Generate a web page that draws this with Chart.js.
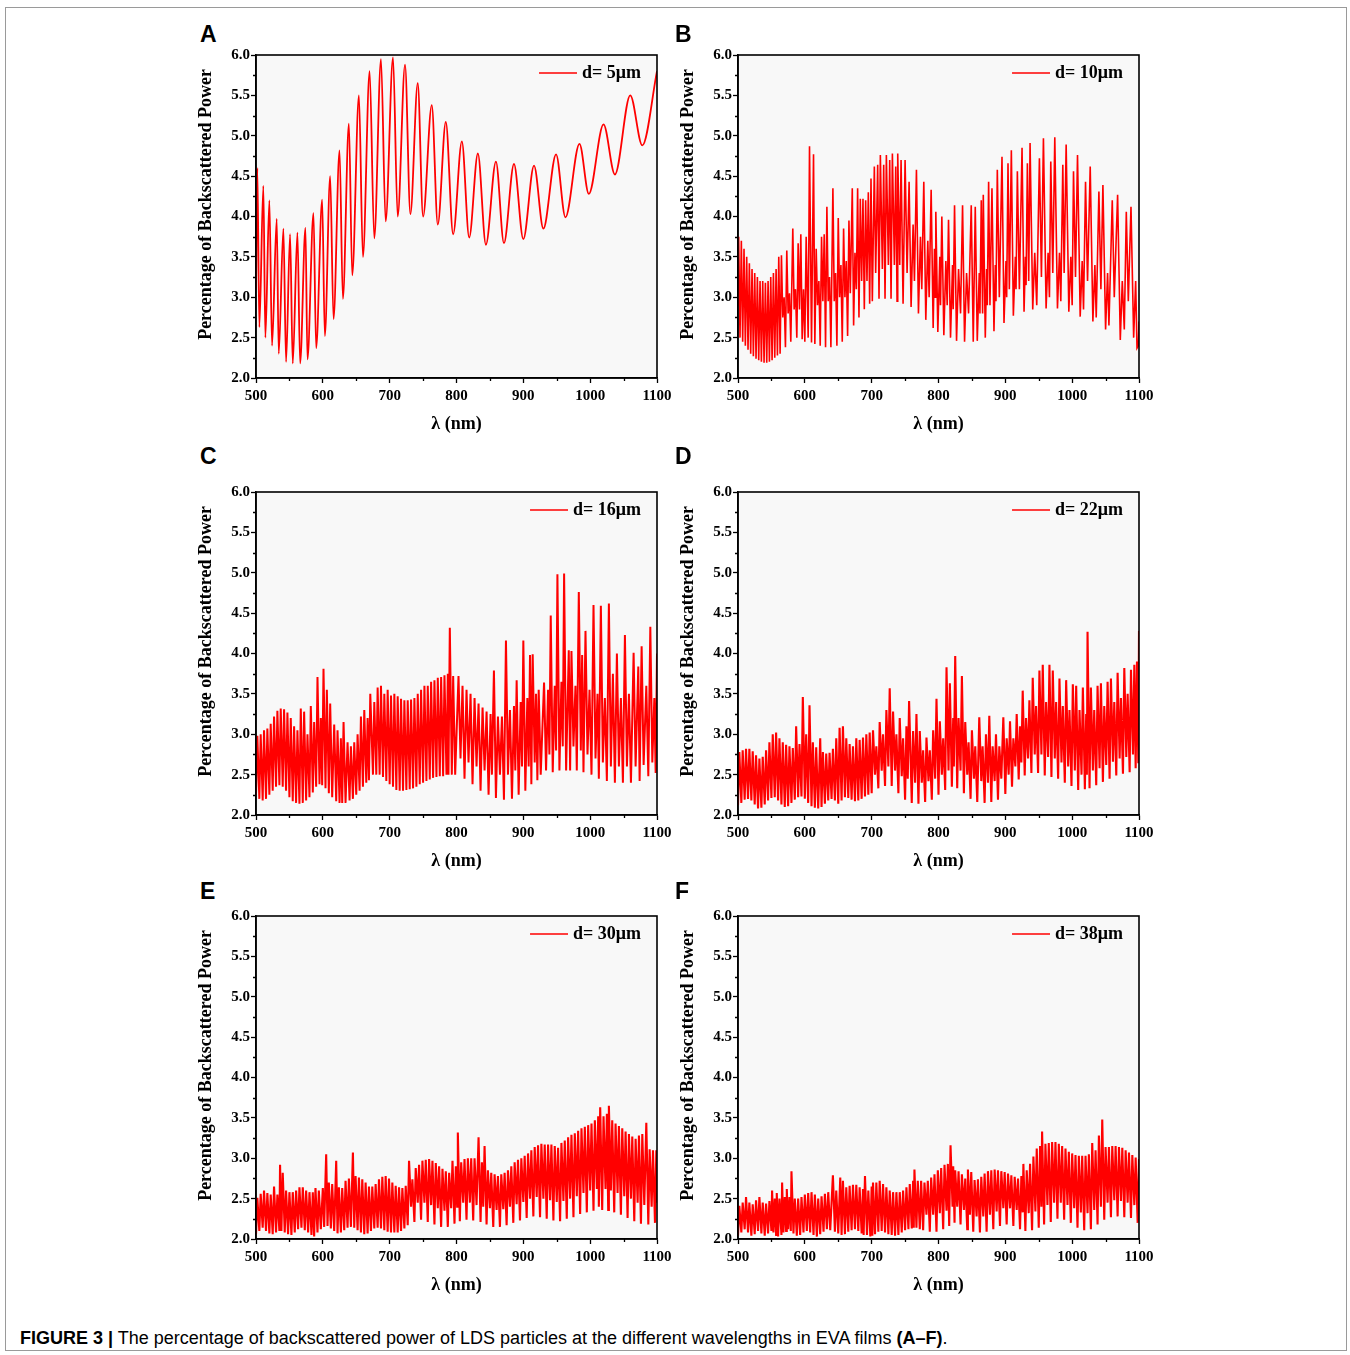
<!DOCTYPE html>
<html>
<head>
<meta charset="utf-8">
<script src="https://cdn.jsdelivr.net/npm/chart.js@4.4.0/dist/chart.umd.min.js"></script>
<style>
  body { margin: 0; background: #fff; width: 1350px; height: 1355px; position: relative; overflow: hidden; }
  .frame { position: absolute; left: 5px; top: 7px; width: 1342px; height: 1344px; border: 1px solid #9a9a9a; box-sizing: border-box; }
  .panel { position: absolute; }
  .tag { position: absolute; font: bold 23px/23px "Liberation Sans", Arial, sans-serif; color: #000; }
  .caption { position: absolute; left: 20px; top: 1329px; font: 18px/18px "Liberation Sans", Arial, sans-serif; color: #000; white-space: nowrap; }
</style>
</head>
<body>
<div class="frame"></div>
<div class="caption"><b>FIGURE 3 |</b> The percentage of backscattered power of LDS particles at the different wavelengths in EVA films <b>(A–F)</b>.</div>
<script>
// axis ticks
const xMajor = [500, 600, 700, 800, 900, 1000, 1100];
const xMinor = [550, 650, 750, 850, 950, 1050];
const yMajor = [2.0, 2.5, 3.0, 3.5, 4.0, 4.5, 5.0, 5.5, 6.0];
const yMinor = [2.25, 2.75, 3.25, 3.75, 4.25, 4.75, 5.25, 5.75];

const panelLetters = ["A", "B", "C", "D", "E", "F"];
const legendLabels = ["d= 5μm", "d= 10μm", "d= 16μm", "d= 22μm", "d= 30μm", "d= 38μm"];

// [wavelength (nm), percentage of backscattered power] (peaks / troughs)
const curveA = [[500,3.1],[502,4.6],[505,2.63],[511,4.38],[514,2.5],[520,4.2],[524,2.4],[531,3.97],[534,2.3],[541,3.85],[545,2.2],[551,3.78],[555,2.18],[562,3.8],[566,2.18],[574,3.86],[577,2.23],[586,4.04],[590,2.37],[599,4.21],[603,2.52],[611,4.5],[616,2.73],[625,4.82],[630,2.98],[639,5.15],[644,3.27],[654,5.5],[660,3.5],[670,5.8],[677,3.73],[687,5.95],[694,3.94],[705,5.97],[712,4.0],[723,5.88],[731,4.03],[742,5.65],[750,4.0],[763,5.38],[772,3.9],[784,5.17],[795,3.78],[808,4.93],[819,3.74],[832,4.78],[844,3.65],[859,4.68],[871,3.67],[886,4.65],[900,3.72],[916,4.63],[930,3.85],[949,4.77],[963,3.99],[984,4.9],[998,4.28],[1020,5.14],[1037,4.52],[1060,5.5],[1078,4.88],[1100,5.8]];

const curveB = [[500,2.9],[501,3.75],[503,2.5],[505,3.7],[507,2.45],[509,3.6],[511,2.4],[513,3.5],[515,2.35],[517,3.42],[519,2.3],[521,3.35],[523,2.27],[525,3.3],[527,2.24],[529,3.25],[531,2.22],[533,3.2],[535,2.2],[537,3.2],[539,2.19],[541,3.18],[543,2.19],[545,3.2],[547,2.2],[549,3.25],[551,2.22],[553,3.3],[555,2.25],[557,3.35],[559,2.28],[561,3.5],
[563,2.3],[565,3.52],[567,2.75],[569,3.0],[571,2.38],[573,3.58],[575,2.8],[577,3.05],[579,2.45],[582,3.85],[584,2.85],[586,3.1],[588,2.5],[590,3.67],[592,2.85],[594,3.78],[596,2.48],[598,3.1],[600,2.45],[602,3.75],[605,2.5],[607,4.87],[610,2.44],[613,4.77],[615,2.42],[617,3.6],[619,2.9],[621,3.2],[623,2.4],[625,3.75],[627,2.95],[629,3.78],[631,2.38],[633,4.12],[635,2.95],[637,3.25],[639,2.38],[642,4.35],[644,2.95],[646,3.3],[648,2.4],[650,3.98],[652,3.0],[654,3.4],[656,2.45],[658,3.85],[660,3.0],[662,3.45],[664,2.52],[666,3.95],[668,3.05],[671,4.35],[673,2.65],[675,3.55],[677,3.1],[679,4.35],[681,2.75],[683,4.22],[685,3.2],[687,4.22],[689,2.85],[691,4.2],[693,3.2],[695,4.3],[697,2.92],[699,4.47],
[701,2.95],[704,4.62],[706,3.3],[709,4.64],[711,2.98],[713,4.76],[716,3.35],[718,4.64],[720,2.98],[722,4.76],[725,3.4],[727,4.7],[729,2.98],[731,4.78],[734,3.4],[736,4.62],[738,2.95],[739,4.78],[742,3.4],[744,4.7],[747,2.92],[750,4.7],[753,3.3],[756,4.43],[759,2.88],[762,3.9],[764,3.2],[767,4.58],[770,2.8],[773,3.75],[775,3.1],[778,4.43],[781,2.72],[784,3.7],[786,3.0],[789,4.33],[792,2.62],[794,3.6],[795,3.0],[796,4.06],[799,2.57],[802,3.5],[803,2.9],[805,4.0],[808,2.53],[811,3.45],[813,2.9],[815,3.96],[818,2.5],[821,3.4],[822,2.85],[824,4.14],[827,2.46],[830,3.35],[833,2.8],[836,4.14],[839,2.45],[842,3.3],[845,2.8],[849,4.14],[852,2.45],[855,4.12],[858,2.46],[861,3.3],[862,2.8],[864,4.2],[866,2.8],[867,4.27],[870,2.5],[872,3.35],[873,2.9],[875,4.43],[877,2.9],[880,4.35],[883,2.58],[885,3.4],[886,2.95],[888,4.58],[891,3.0],[895,4.74],[898,2.68],[901,3.45],[902,3.0],[904,4.66],[906,3.1],[909,4.82],[912,2.77],[915,3.5],[916,3.1],[918,4.56],[921,3.1],[925,4.85],[928,2.82],[930,3.5],[931,3.15],[933,4.66],[935,3.2],[937,4.91],[941,2.85],[944,3.55],[947,2.9],[951,4.72],[954,3.25],[957,4.97],[961,2.86],[964,3.55],[966,3.0],[968,4.68],[971,3.3],[974,4.98],[978,2.86],[981,3.55],[983,2.95],[986,4.64],[988,3.3],[991,4.89],[995,2.82],[998,3.5],[1000,2.9],[1002,4.56],[1005,3.25],[1008,4.76],[1012,2.76],[1015,3.45],[1017,2.85],[1020,4.43],[1023,3.2],[1027,4.62],[1031,2.7],[1034,3.4],[1036,2.75],[1040,4.31],[1043,3.1],[1046,4.39],[1050,2.6],[1053,3.3],[1055,2.65],[1060,4.2],[1063,3.0],[1068,4.27],[1072,2.47],[1075,3.2],[1078,2.6],[1081,4.06],[1084,2.95],[1088,4.12],[1092,2.5],[1095,3.2],[1097,2.37],[1099,2.4],[1100,2.7]];

const curveC = [[500,2.25],[502,2.98],[505,2.2],[507,3.0],[510,2.18],[512,3.05],[515,2.2],[517,3.07],[520,2.25],[522,3.13],[525,2.3],[527,3.22],[530,2.35],[532,3.29],[535,2.37],[537,3.32],[540,2.35],[542,3.31],[545,2.3],[547,3.27],[550,2.22],[552,3.2],[555,2.17],[557,3.1],[560,2.15],[562,3.05],[565,2.14],[567,3.32],[570,2.15],[572,3.28],[575,2.18],[577,3.0],[580,2.22],[582,3.35],[585,2.28],[587,3.15],[590,2.35],[592,3.71],[595,2.38],[597,3.2],[599,2.37],[601,3.81],[604,2.33],[606,3.55],[609,2.27],[611,3.38],[614,2.22],[617,3.12],[620,2.17],[622,3.05],[625,2.15],[627,2.95],[629,2.15],[631,3.15],[634,2.15],[637,2.9],[640,2.18],[642,2.85],[645,2.2],[647,2.9],[650,2.25],[652,3.0],[655,2.3],[657,3.22],[660,2.35],[662,3.3],[665,2.4],[667,3.2],[669,2.43],[671,3.5],[675,2.5],[677,3.4],[680,2.5],[682,3.58],[685,2.5],[687,3.6],[690,2.47],[692,3.5],[695,2.42],[697,3.55],[700,2.38],[702,3.48],[705,2.35],[707,3.5],[710,2.31],[712,3.47],[715,2.3],[717,3.44],[720,2.3],[722,3.42],[725,2.31],[727,3.42],[730,2.32],[732,3.43],[735,2.33],[737,3.45],[740,2.35],[742,3.5],[745,2.38],[747,3.55],[750,2.4],[752,3.6],[755,2.42],[757,3.6],[760,2.44],[762,3.65],[765,2.46],[767,3.67],[770,2.47],[772,3.7],[775,2.48],[777,3.71],[780,2.48],[782,3.73],[785,2.5],[787,3.75],[788,2.5],[790,4.32],[793,2.5],[795,3.72],[798,2.5],
[803,3.72],[806,2.7],[809,3.6],[812,2.45],[815,3.55],[818,2.65],[821,3.5],[824,2.38],[827,3.45],[830,2.6],[833,3.38],[836,2.3],[839,3.33],[842,2.55],[845,3.28],[848,2.25],[851,3.25],[853,2.5],[856,3.79],[859,2.21],[862,3.22],[865,2.5],[868,3.22],[871,2.19],[874,4.16],[877,2.5],[880,3.3],[883,2.2],[886,3.35],[888,2.55],[890,3.67],[893,2.25],[896,3.4],[898,2.6],[900,4.16],[903,2.3],[906,3.45],[908,2.6],[910,3.98],[912,2.38],[914,3.99],[917,2.65],[919,3.5],[921,2.43],[923,3.55],[926,2.5],[931,3.64],[934,2.55],[937,3.55],[939,2.75],[941,4.47],[944,2.53],[947,3.6],[949,2.8],[951,4.98],[954,2.55],[957,3.65],[959,2.85],[961,4.99],[964,2.55],[968,4.04],[970,2.55],[972,4.03],[975,2.85],[978,3.6],[980,2.55],[983,4.76],[986,2.8],[988,3.98],[990,2.53],[993,4.28],[996,2.75],[999,3.55],[1002,2.5],[1005,4.6],[1008,2.7],[1011,3.5],[1013,2.45],[1016,4.59],[1019,2.65],[1022,3.45],[1025,2.42],[1028,4.62],[1031,2.6],[1034,3.75],[1037,2.4],[1040,4.0],[1043,2.6],[1046,3.45],[1049,2.4],[1052,4.23],[1055,2.6],[1058,3.5],[1061,2.4],[1065,4.01],[1068,2.6],[1072,3.84],[1074,2.42],[1077,4.09],[1080,2.62],[1084,3.6],[1087,2.48],[1090,4.33],[1093,2.65],[1096,3.45],[1098,2.52],[1100,4.0]];

const curveD = [[500,2.12],[502,2.78],[505,2.15],[507,2.8],[510,2.19],[512,2.82],[515,2.2],[517,2.82],[520,2.18],[522,2.79],[525,2.13],[527,2.74],[530,2.08],[532,2.7],[535,2.09],[537,2.72],[540,2.13],[542,2.8],[545,2.18],[547,2.9],[550,2.21],[552,3.0],[555,2.22],[557,3.02],[560,2.18],[562,2.95],[565,2.13],[567,2.9],[570,2.1],[572,2.87],[575,2.11],[577,2.85],[580,2.15],[582,2.83],[585,2.19],[587,3.1],[590,2.22],[592,2.88],[595,2.23],[597,3.46],[600,2.2],[602,3.0],[605,2.15],[607,3.36],[610,2.11],[612,2.9],[615,2.09],[617,2.84],[620,2.08],[623,2.95],[625,2.1],[627,2.78],[630,2.14],[632,2.76],[635,2.18],[637,2.77],[640,2.2],[642,2.82],[645,2.18],[647,2.95],[650,2.14],[652,3.08],[655,2.18],[657,3.1],[660,2.22],[662,2.95],[665,2.21],[667,2.88],[670,2.19],[672,2.85],[675,2.17],[677,2.95],[680,2.18],[682,2.93],[685,2.2],[687,2.96],[690,2.23],[692,3.0],[695,2.25],[697,3.02],
[700,2.27],[702,3.05],[705,2.5],[707,2.85],[710,2.33],[712,3.15],[715,2.55],[717,3.0],[720,2.36],[722,3.3],[725,2.6],[727,3.57],[730,2.36],[732,3.28],[735,2.55],[737,3.0],[740,2.27],[742,3.2],[745,2.48],[747,2.95],[750,2.19],[752,3.1],[754,2.45],[756,3.41],[760,2.15],[762,3.04],[765,2.4],[767,3.25],[770,2.14],[772,3.04],[775,2.4],[777,2.8],[780,2.16],[782,2.96],[785,2.42],[787,2.8],[790,2.19],[792,3.05],[795,2.45],[797,3.44],[800,2.25],[802,3.16],[805,2.5],[807,2.95],[810,2.31],[812,3.83],[815,2.55],[817,3.63],[820,2.35],[822,3.2],[823,2.6],[825,3.97],[828,2.33],[830,3.2],[833,2.55],[835,3.72],[838,2.27],[840,3.15],[843,2.5],[845,2.9],[848,2.2],[850,3.05],[853,2.45],[855,2.85],[858,2.16],[861,3.21],[864,2.42],[866,2.85],[869,2.15],[871,3.0],[874,2.4],[876,3.23],[879,2.16],[881,2.85],[884,2.42],[886,3.0],[889,2.19],[891,2.85],[894,2.45],[897,3.21],[900,2.26],[902,2.95],[905,2.5],[907,3.16],[910,2.35],[912,2.95],[915,2.6],[917,3.25],[920,2.44],[922,3.1],[924,2.65],[926,3.54],[929,2.49],[931,3.2],[934,2.7],[936,3.42],[939,2.52],[941,3.7],[944,2.75],[946,3.35],[949,2.52],[951,3.79],[954,2.75],[956,3.86],[959,2.49],[961,3.4],[964,2.72],[966,3.86],[969,2.47],[971,3.79],[974,2.7],[976,3.4],[979,2.45],[981,3.69],[984,2.65],[986,3.35],[989,2.4],[991,3.67],[994,2.6],[996,3.3],[999,2.36],[1001,3.62],[1004,2.55],[1006,3.6],[1009,2.31],[1011,3.3],[1014,2.5],[1016,3.58],[1019,2.32],[1021,3.25],[1022,2.5],[1023,4.27],[1026,2.33],[1028,3.58],[1031,2.55],[1033,3.3],[1036,2.37],[1038,3.6],[1041,2.58],[1043,3.63],[1046,2.41],[1048,3.35],[1051,2.62],[1053,3.65],[1056,2.45],[1058,3.69],[1061,2.66],[1063,3.4],[1066,2.49],[1068,3.76],[1071,2.7],[1073,3.45],[1076,2.51],[1078,3.82],[1081,2.72],[1083,3.5],[1086,2.53],[1088,3.8],[1091,2.75],[1093,3.86],[1095,2.58],[1097,3.9],[1099,2.64],[1100,4.28]];

const curveE = [[500,2.06],[502,2.51],[505,2.1],[507,2.56],[510,2.14],[512,2.6],[515,2.1],[517,2.57],[520,2.07],[522,2.55],[525,2.06],[527,2.65],[530,2.08],[532,2.55],[535,2.1],[536,2.92],[538,2.1],[540,2.82],[543,2.08],[545,2.6],[548,2.06],[550,2.58],[553,2.05],[555,2.58],[558,2.08],[560,2.6],[563,2.12],[565,2.64],[568,2.14],[570,2.64],[573,2.11],[575,2.6],[578,2.08],[580,2.58],[583,2.05],[585,2.58],[587,2.03],[589,2.63],[592,2.08],[594,2.6],[597,2.12],[600,2.63],[602,2.15],[605,3.05],[607,2.16],[609,2.7],[612,2.13],[614,2.68],[617,2.1],[620,2.97],[622,2.07],[624,2.64],[627,2.08],[629,2.63],[632,2.11],[634,2.72],[637,2.14],[639,2.75],[642,2.15],[645,3.07],[647,2.14],[649,2.78],[652,2.11],[654,2.76],[657,2.08],[659,2.74],[662,2.06],[664,2.7],[667,2.07],[669,2.65],[672,2.1],[674,2.65],[677,2.13],[679,2.68],[682,2.14],[684,2.74],[687,2.13],[689,2.77],[692,2.11],[694,2.78],[697,2.09],[699,2.75],[702,2.08],[704,2.7],[707,2.08],[709,2.66],[712,2.08],[714,2.64],[717,2.1],[719,2.63],[722,2.13],[724,2.66],[727,2.17],[729,2.97],
[732,2.4],[734,2.74],[737,2.21],[739,2.88],[742,2.45],[744,2.92],[747,2.24],[749,2.97],[752,2.45],[754,2.98],[757,2.21],[759,2.99],[762,2.42],[764,2.97],[767,2.18],[769,2.94],[772,2.38],[774,2.9],[777,2.15],[779,2.87],[782,2.35],[784,2.84],[787,2.15],[789,2.82],[792,2.38],[794,2.97],[797,2.19],[799,2.9],[801,2.4],[802,3.32],[805,2.22],[807,2.95],[810,2.45],[812,2.99],[815,2.24],[817,3.0],[820,2.45],[822,3.0],[825,2.23],[827,3.0],[830,2.42],[833,3.26],[836,2.21],[838,2.95],[840,2.4],[842,3.15],[845,2.18],[847,2.85],[850,2.38],[852,2.82],[855,2.15],[857,2.8],[860,2.36],[862,2.78],[865,2.15],[867,2.8],[870,2.37],[872,2.82],[875,2.17],[877,2.85],[880,2.4],[882,2.9],[885,2.2],[887,2.95],[890,2.43],[892,2.98],[895,2.23],[897,3.0],[900,2.46],[902,3.03],[905,2.26],[907,3.06],[910,2.5],[912,3.1],[915,2.28],[917,3.14],[920,2.52],[922,3.16],[925,2.27],[927,3.18],[930,2.5],[932,3.17],[935,2.25],[937,3.17],[940,2.48],[942,3.17],[945,2.23],[947,3.15],[950,2.46],[952,3.13],[955,2.22],[957,3.19],[960,2.47],[962,3.22],[965,2.25],[967,3.26],[970,2.5],[972,3.29],[975,2.27],[977,3.31],[980,2.53],[982,3.34],[985,2.31],[987,3.37],[990,2.57],[992,3.39],[995,2.33],[997,3.41],[1000,2.6],[1002,3.43],[1005,2.35],[1007,3.47],[1010,2.62],[1012,3.52],[1013,2.4],[1015,3.63],[1018,2.36],[1020,3.52],[1023,2.62],[1025,3.55],[1027,2.36],[1028,3.65],[1031,2.6],[1033,3.47],[1036,2.33],[1038,3.43],[1041,2.57],[1043,3.4],[1046,2.3],[1048,3.37],[1051,2.53],[1053,3.33],[1056,2.26],[1058,3.3],[1061,2.5],[1063,3.27],[1066,2.22],[1068,3.24],[1071,2.45],[1073,3.28],[1076,2.19],[1078,3.3],[1081,2.42],[1084,3.44],[1087,2.18],[1089,3.11],[1092,2.4],[1094,3.1],[1097,2.2],[1099,3.1],[1100,2.45]];

const curveF = [[500,2.04],[502,2.41],[505,2.08],[507,2.45],[510,2.12],[512,2.52],[515,2.08],[517,2.45],[520,2.04],[522,2.43],[525,2.06],[527,2.48],[530,2.1],[532,2.52],[535,2.07],[537,2.45],[540,2.04],[542,2.44],[545,2.07],[547,2.47],[550,2.1],[551,2.6],[553,2.08],[555,2.5],[557,2.05],[558,2.57],[560,2.03],[562,2.5],[565,2.05],[566,2.7],[568,2.08],[570,2.52],[572,2.1],[573,2.62],[575,2.12],[577,2.52],[579,2.1],[580,2.84],[583,2.07],[585,2.5],[588,2.04],[590,2.5],[593,2.05],[595,2.52],[598,2.08],[600,2.55],[603,2.1],[605,2.57],[608,2.08],[610,2.58],[613,2.05],[615,2.55],[618,2.03],[620,2.5],[623,2.06],[625,2.53],[628,2.09],[630,2.56],[633,2.12],[635,2.58],[638,2.11],[642,2.79],[645,2.09],[647,2.6],[650,2.07],[653,2.76],[655,2.05],[657,2.72],[660,2.06],[662,2.64],[665,2.09],[667,2.66],[670,2.11],[672,2.67],[675,2.12],[677,2.67],[680,2.1],[682,2.64],[685,2.07],[687,2.62],[688,2.05],[690,2.78],[693,2.05],[695,2.6],[698,2.03],[700,2.65],[701,2.04],[702,2.7],[705,2.06],[707,2.7],[710,2.09],[712,2.72],[715,2.1],[717,2.68],[720,2.08],[722,2.64],[725,2.06],[727,2.6],[730,2.05],[732,2.58],[735,2.04],[737,2.58],[740,2.05],[742,2.58],[745,2.08],[747,2.6],[750,2.11],[752,2.64],[755,2.12],[757,2.68],[760,2.13],[762,2.72],[763,2.14],[764,2.86],[767,2.14],[769,2.72],[772,2.12],[774,2.72],[777,2.11],[779,2.7],
[782,2.3],[784,2.72],[787,2.09],[789,2.76],[792,2.3],[794,2.8],[797,2.09],[799,2.85],[802,2.32],[804,2.88],[807,2.12],[809,2.92],[812,2.35],[814,2.93],[816,2.16],[818,3.16],[821,2.4],[822,2.9],[824,2.2],[825,2.85],[828,2.4],[830,2.84],[833,2.18],[835,2.8],[838,2.36],[840,2.75],[843,2.12],[844,2.86],[847,2.3],[849,2.83],[852,2.09],[854,2.73],[857,2.28],[859,2.74],[862,2.08],[864,2.77],[867,2.28],[869,2.81],[872,2.09],[874,2.84],[877,2.3],[879,2.85],[882,2.12],[884,2.86],[887,2.34],[889,2.85],[892,2.16],[894,2.84],[897,2.38],[899,2.83],[902,2.18],[904,2.81],[907,2.38],[909,2.79],[912,2.16],[914,2.77],[917,2.36],[919,2.75],[922,2.12],[924,2.78],[926,2.33],[927,2.93],[930,2.1],[932,2.85],[935,2.32],[937,2.93],[940,2.11],[942,3.02],[945,2.34],[947,3.12],[950,2.14],[952,3.15],[954,2.4],[955,3.33],[958,2.18],[960,3.18],[963,2.42],[965,3.19],[968,2.21],[970,3.2],[973,2.45],[975,3.2],[978,2.25],[980,3.18],[983,2.45],[985,3.15],[988,2.24],[990,3.12],[993,2.42],[995,3.08],[998,2.2],[1000,3.06],[1003,2.38],[1005,3.04],[1008,2.14],[1010,3.03],[1013,2.33],[1015,3.03],[1018,2.11],[1020,3.03],[1023,2.32],[1025,3.05],[1028,2.12],[1030,3.19],[1033,2.36],[1035,3.1],[1038,2.18],[1040,3.28],[1043,2.4],[1045,3.48],[1048,2.24],[1050,3.14],[1053,2.45],[1055,3.14],[1058,2.27],[1060,3.15],[1063,2.48],[1065,3.15],[1068,2.28],[1070,3.14],[1073,2.47],[1075,3.13],[1078,2.27],[1080,3.1],[1083,2.45],[1085,3.07],[1088,2.26],[1090,3.04],[1093,2.42],[1095,3.01],[1098,2.2],[1100,2.99]];

const curves = [curveA, curveB, curveC, curveD, curveE, curveF];

// where each plot area sits on the page, and where its letter goes
const plotBoxes = [
  { left: 256, top: 55 }, { left: 738, top: 55 },
  { left: 256, top: 492 }, { left: 738, top: 492 },
  { left: 256, top: 916 }, { left: 738, top: 916 },
];
const tagSpots = [
  { left: 200, top: 23 }, { left: 675, top: 23 },
  { left: 200, top: 445 }, { left: 675, top: 445 },
  { left: 200, top: 880 }, { left: 675, top: 880 },
];
const lineWidths = [1.8, 1.6, 2.0, 2.1, 2.1, 2.1];
const AXIS_W = 66, AXIS_H = 60, PAD_TOP = 10, PAD_RIGHT = 20;
const PLOT_W = 401, PLOT_H = 323;
const SERIF = '"Liberation Serif", "Times New Roman", serif';

Chart.defaults.font.family = SERIF;
Chart.defaults.font.weight = "bold";
Chart.defaults.color = "#000";

const panelDecor = {
  id: "panelDecor",
  beforeDraw(chart) {
    const { ctx, chartArea: a } = chart;
    ctx.save();
    ctx.fillStyle = "#f8f8f8";
    ctx.fillRect(a.left, a.top, a.right - a.left, a.bottom - a.top);
    ctx.restore();
  },
  afterDraw(chart, args, opts) {
    const { ctx, chartArea: a, scales: { x, y } } = chart;
    ctx.save();
    // minor ticks
    ctx.strokeStyle = "#000";
    ctx.lineWidth = 1.3;
    ctx.beginPath();
    xMinor.forEach((v) => {
      const px = Math.round(x.getPixelForValue(v)) + 0.5;
      ctx.moveTo(px, a.bottom);
      ctx.lineTo(px, a.bottom + 3);
    });
    yMinor.forEach((v) => {
      const py = Math.round(y.getPixelForValue(v)) + 0.5;
      ctx.moveTo(a.left, py);
      ctx.lineTo(a.left - 3, py);
    });
    ctx.stroke();
    // box around the plot
    ctx.lineWidth = 1.6;
    ctx.strokeRect(a.left, a.top, a.right - a.left, a.bottom - a.top);

    // legend
    ctx.font = "bold 18px " + SERIF;
    ctx.fillStyle = "#000";
    ctx.textAlign = "right";
    ctx.textBaseline = "middle";
    const tx = a.right - 16, ty = a.top + 18;
    ctx.fillText(opts.label, tx, ty);
    const w = ctx.measureText(opts.label).width;
    ctx.strokeStyle = "#ff0000";
    ctx.lineWidth = 1.6;
    ctx.beginPath();
    ctx.moveTo(tx - w - 43, ty);
    ctx.lineTo(tx - w - 5, ty);
    ctx.stroke();

    // y axis title (sits a little above the plot centre in the original)
    ctx.translate(16.5, (a.top + a.bottom) / 2 - 12);
    ctx.rotate(-Math.PI / 2);
    ctx.textAlign = "center";
    ctx.fillStyle = "#000";
    ctx.fillText("Percentage of Backscattered Power", 0, 0);
    ctx.restore();
  },
};

curves.forEach((curve, i) => {
  const box = plotBoxes[i];

  const tag = document.createElement("div");
  tag.className = "tag";
  tag.textContent = panelLetters[i];
  tag.style.left = tagSpots[i].left + "px";
  tag.style.top = tagSpots[i].top + "px";
  document.body.appendChild(tag);

  const canvas = document.createElement("canvas");
  canvas.className = "panel";
  canvas.width = AXIS_W + PLOT_W + PAD_RIGHT;
  canvas.height = PAD_TOP + PLOT_H + AXIS_H;
  canvas.style.left = (box.left - AXIS_W) + "px";
  canvas.style.top = (box.top - PAD_TOP) + "px";
  document.body.appendChild(canvas);

  new Chart(canvas.getContext("2d"), {
    type: "line",
    data: {
      datasets: [{
        label: legendLabels[i],
        data: curve.map(([lam, p]) => ({ x: lam, y: p })),
        borderColor: "#ff0000",
        borderWidth: lineWidths[i],
        pointRadius: 0,
        cubicInterpolationMode: i === 0 ? "monotone" : "default",
        tension: 0,
      }],
    },
    options: {
      responsive: false,
      animation: false,
      devicePixelRatio: 1,
      events: [],
      layout: { padding: { top: PAD_TOP, right: PAD_RIGHT, bottom: 0, left: 0 } },
      plugins: {
        legend: { display: false },
        tooltip: { enabled: false },
        panelDecor: { label: legendLabels[i] },
      },
      scales: {
        x: {
          type: "linear",
          min: 500,
          max: 1100,
          afterBuildTicks: (s) => { s.ticks = xMajor.map((v) => ({ value: v })); },
          afterFit: (s) => { s.height = AXIS_H; },
          ticks: { autoSkip: false, maxRotation: 0, padding: 4, font: { size: 15, weight: "bold" }, color: "#000", callback: (v) => String(v) },
          grid: { drawOnChartArea: false, drawTicks: true, tickLength: 5, tickColor: "#000", tickWidth: 1.3 },
          border: { display: true, color: "#000", width: 1.6 },
          title: { display: true, text: "λ (nm)", font: { size: 18, weight: "bold" }, color: "#000", padding: { top: 0, bottom: 3 } },
        },
        y: {
          type: "linear",
          min: 2,
          max: 6,
          afterBuildTicks: (s) => { s.ticks = yMajor.map((v) => ({ value: v })); },
          afterFit: (s) => { s.width = AXIS_W; },
          ticks: { padding: 1, font: { size: 15, weight: "bold" }, color: "#000", callback: (v) => Number(v).toFixed(1) },
          grid: { drawOnChartArea: false, drawTicks: true, tickLength: 5, tickColor: "#000", tickWidth: 1.3 },
          border: { display: true, color: "#000", width: 1.6 },
          title: { display: false },
        },
      },
    },
    plugins: [panelDecor],
  });
});
</script>
</body>
</html>
